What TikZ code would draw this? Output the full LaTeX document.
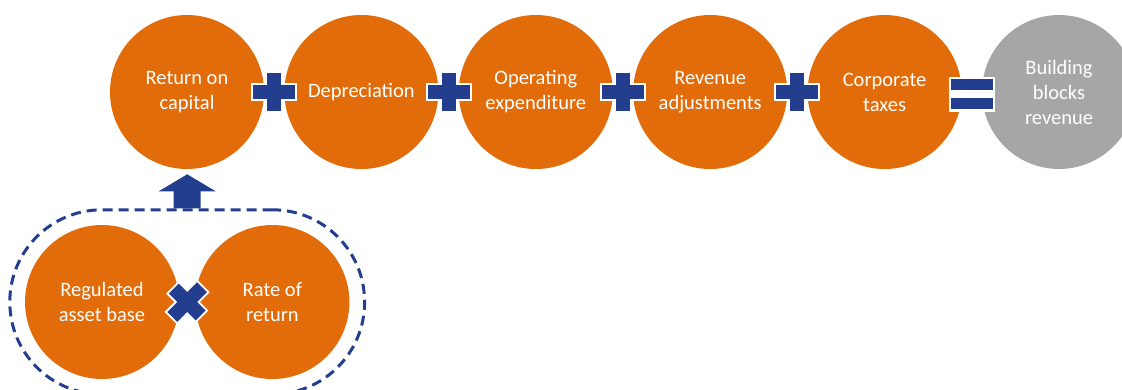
\documentclass[tikz,border=0pt]{standalone}
\usepackage{fontspec}
\setmainfont{Carlito}
\usetikzlibrary{positioning, fit, calc}
\definecolor{rorange}{HTML}{E36C0A}
\definecolor{rgrey}{HTML}{A6A6A6}
\definecolor{signblue}{HTML}{233E8E}
\tikzstyle{block} = [circle, fill=rorange, minimum size=154pt, inner sep=0pt, align=center, text=white, font=\fontsize{20.5}{25}\selectfont]
\tikzstyle{total} = [block, fill=rgrey]
\tikzstyle{group} = [draw=signblue, line width=3pt, dash pattern=on 10pt off 6pt, rounded corners=92pt, inner sep=15pt]
\tikzset{
  plussign/.pic={
    \draw[white, line width=18pt] (-23,0) -- (23,0) (0,-21) -- (0,21);
    \draw[signblue, line width=14pt] (-21,0) -- (21,0) (0,-19) -- (0,19);
  },
  equalsign/.pic={
    \draw[white, line width=35pt] (-23,0) -- (23,0);
    \draw[signblue, line width=11pt] (-21,-9.8) -- (21,-9.8) (-21,9.7) -- (21,9.7);
  }
}

\begin{document}
\begin{tikzpicture}[x=1pt,y=-1pt]
      \useasboundingbox (0,0) rectangle (1122,389);
      \node (roc) [block] at (187,92) {Return on\\capital};
      \node (dep) [block, right=20pt of roc] {Depreciation};
      \node (opx) [block, right=20pt of dep] {Operating\\expenditure};
      \node (rev) [block, right=20pt of opx] {Revenue\\adjustments};
      \node (tax) [block, right=20pt of rev] {Corporate\\taxes};
      \node (bbr) [total, right=20pt of tax] {Building\\blocks\\revenue};

      \node (rab) [block] at (102,302) {Regulated\\asset base};
      \node (ror) [block, right=16pt of rab] {Rate of\\return};
      \node (grp) [group, fit=(rab)(ror)] {};

      \foreach \a/\b in {roc/dep, dep/opx, opx/rev, rev/tax}
        \pic at ($(\a.east)!0.5!(\b.west)$) {plussign};
      \pic at ($(tax.east)!0.5!(bbr.west)+(0,2)$) {equalsign};
      \pic[rotate=45] at ($(rab.east)!0.5!(ror.west)$) {plussign};

      \fill[signblue] (grp.north) ++(-13.5,0) -- ++(0,-17) -- ++(-15,0) -- ++(28.5,-17)
        -- ++(28.5,17) -- ++(-15,0) -- ++(0,17) -- cycle;
    \end{tikzpicture}
\end{document}
